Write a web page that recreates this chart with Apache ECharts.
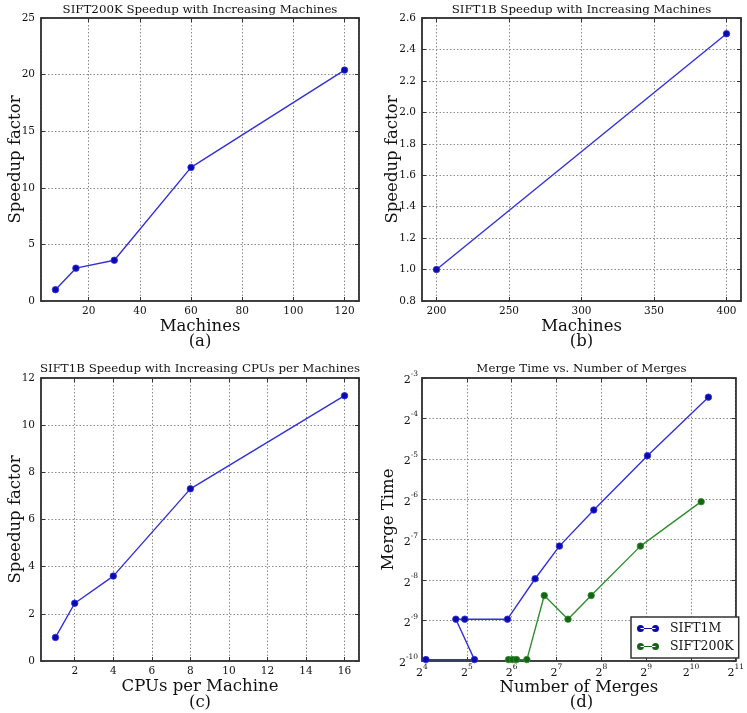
<!DOCTYPE html>
<html><head><meta charset="utf-8">
<script src="https://cdn.jsdelivr.net/npm/echarts@6/dist/echarts.min.js"></script>
<style>html,body{margin:0;padding:0;background:#fff}#c{width:747px;height:713px}</style>
</head><body><div id="c"></div>
<script>
// ---- Data ----
// (a) SIFT200K speedup vs machines
const machinesA = [7, 15, 30, 60, 120];
const speedupA = [1.0, 2.9, 3.6, 11.8, 20.4];
// (b) SIFT1B speedup vs machines
const machinesB = [200, 400];
const speedupB = [1.0, 2.5];
// (c) SIFT1B speedup vs CPUs per machine
const cpusC = [1, 2, 4, 8, 16];
const speedupC = [1.0, 2.45, 3.6, 7.3, 11.25];
// (d) merge time vs number of merges (log2 axes)
const mergesSIFT1M = [17, 36, 27, 31, 60, 92, 134, 228, 523, 1342];
const timeSIFT1M = [0.001, 0.001, 0.002, 0.002, 0.002, 0.004, 0.007, 0.013, 0.033, 0.09];
const mergesSIFT200K = [61, 65, 69, 81, 106, 153, 219, 469, 1200];
const timeSIFT200K = [0.001, 0.001, 0.001, 0.001, 0.003, 0.002, 0.003, 0.007, 0.015];

const titlesTop = ['SIFT200K Speedup with Increasing Machines', 'SIFT1B Speedup with Increasing Machines',
  'SIFT1B Speedup with Increasing CPUs per Machines', 'Merge Time vs. Number of Merges'];
const panelLabels = ['(a)', '(b)', '(c)', '(d)'];
const xNames = ['Machines', 'Machines', 'CPUs per Machine', 'Number of Merges'];
const yNames = ['Speedup factor', 'Speedup factor', 'Speedup factor', 'Merge Time'];

// ---- Style ----
const FONT = 'DejaVu Serif';
const BLUE_LINE = '#3030dc';
const BLUE_MARK = '#0a0ab0';
const GREEN_LINE = '#2f8f2f';
const GREEN_MARK = '#146414';
const grids = [
  {left: 41, top: 18, width: 318, height: 283},
  {left: 422, top: 18, width: 319, height: 283},
  {left: 41, top: 378, width: 318, height: 283},
  {left: 422, top: 378, width: 319, height: 283}
];
const splitLine = {show: true, lineStyle: {color: '#8a8a8a', width: 1, type: [1.5, 2]}};
const tick = {show: true, inside: true, length: 4, lineStyle: {color: '#333', width: 1}};
const axisLine = {show: true, onZero: false, lineStyle: {color: '#333', width: 1.5}};
const labelBase = {fontFamily: FONT, fontSize: 10.5, color: '#111'};
const nameStyle = {fontFamily: FONT, fontSize: 16.5, color: '#111'};

function pow2Label(v) {
  const e = Math.round(Math.log2(v));
  return '{b|2}{s|' + e + '}';
}
const richPow = {
  b: {fontFamily: FONT, fontSize: 11, color: '#111', lineHeight: 16, verticalAlign: 'bottom'},
  s: {fontFamily: FONT, fontSize: 7.5, color: '#111', lineHeight: 9, verticalAlign: 'top'}
};

function xPair(gi, scale, name, nameGap) {
  const main = Object.assign({
    gridIndex: gi, position: 'bottom', axisLine: axisLine, axisTick: tick, splitLine: splitLine,
    name: name, nameLocation: 'middle', nameGap: nameGap, nameMoveOverlap: false, nameTextStyle: nameStyle
  }, scale.common, {axisLabel: Object.assign({margin: 5}, labelBase, scale.label)});
  const mirror = Object.assign({
    gridIndex: gi, position: 'top', axisLine: axisLine, axisTick: tick, splitLine: {show: false},
    axisLabel: {show: false}
  }, scale.common);
  return [main, mirror];
}
function yPair(gi, scale, name, nameGap) {
  const main = Object.assign({
    gridIndex: gi, position: 'left', axisLine: axisLine, axisTick: tick, splitLine: splitLine,
    name: name, nameLocation: 'middle', nameGap: nameGap, nameMoveOverlap: false, nameTextStyle: nameStyle
  }, scale.common, {axisLabel: Object.assign({margin: 6}, labelBase, scale.label)});
  const mirror = Object.assign({
    gridIndex: gi, position: 'right', axisLine: axisLine, axisTick: tick, splitLine: {show: false},
    axisLabel: {show: false}
  }, scale.common);
  return [main, mirror];
}

const xScales = [
  {common: {type: 'value', min: 1.35, max: 125.65, minInterval: 20, maxInterval: 20}, label: {showMinLabel: false, showMaxLabel: false}},
  {common: {type: 'value', min: 190, max: 410, minInterval: 50, maxInterval: 50}, label: {showMinLabel: false, showMaxLabel: false}},
  {common: {type: 'value', min: 0.25, max: 16.75, minInterval: 2, maxInterval: 2}, label: {showMinLabel: false, showMaxLabel: false}},
  {common: {type: 'log', logBase: 2, min: 16, max: 2048}, label: {formatter: pow2Label, rich: richPow, margin: 2}}
];
const yScales = [
  {common: {type: 'value', min: 0, max: 25, interval: 5}, label: {}},
  {common: {type: 'value', min: 0.8, max: 2.6, interval: 0.2}, label: {formatter: v => v.toFixed(1)}},
  {common: {type: 'value', min: 0, max: 12, interval: 2}, label: {}},
  {common: {type: 'log', logBase: 2, min: Math.pow(2, -10), max: Math.pow(2, -3)}, label: {formatter: pow2Label, rich: richPow, margin: 4}}
];
const xGaps = [17, 17, 17, 18];
const yGaps = [17, 21, 17, 25];

let xAxis = [], yAxis = [];
for (let i = 0; i < 4; i++) {
  xAxis = xAxis.concat(xPair(i, xScales[i], xNames[i], xGaps[i]));
  yAxis = yAxis.concat(yPair(i, yScales[i], yNames[i], yGaps[i]));
}

function lineSeries(name, idx, xs, ys, lineColor, markColor) {
  return {
    name: name, type: 'line', xAxisIndex: idx * 2, yAxisIndex: idx * 2,
    data: xs.map((x, i) => [x, ys[i]]),
    symbol: 'circle', symbolSize: 6.5, showSymbol: true, clip: false,
    lineStyle: {color: lineColor, width: 1.4},
    itemStyle: {color: markColor, borderColor: lineColor, borderWidth: 0.8},
    emphasis: {disabled: true}, animation: false
  };
}

const titles = [];
const centers = grids.map(g => g.left + g.width / 2);
const titleTops = [4, 4, 363, 363];
const labelTops = [333, 333, 694, 694];
for (let i = 0; i < 4; i++) {
  titles.push({text: titlesTop[i], left: centers[i], top: titleTops[i], textAlign: 'center', padding: 0,
    textStyle: {fontFamily: FONT, fontSize: 11.8, fontWeight: 'normal', color: '#111'}});
  titles.push({text: panelLabels[i], left: centers[i], top: labelTops[i], textAlign: 'center', padding: 0,
    textStyle: {fontFamily: FONT, fontSize: 16.5, fontWeight: 'normal', color: '#111'}});
}

const legendIcon = 'path://M0,3.5 a3.5,3.5 0 1,0 7,0 a3.5,3.5 0 1,0 -7,0 Z M15,3.5 a3.5,3.5 0 1,0 7,0 a3.5,3.5 0 1,0 -7,0 Z M3.5,2.9 L18.5,2.9 L18.5,4.1 L3.5,4.1 Z';

const option = {
  animation: false,
  backgroundColor: '#fff',
  title: titles,
  grid: grids.map(g => Object.assign({show: true, borderColor: '#333', borderWidth: 1.5, backgroundColor: 'transparent', containLabel: false}, g)),
  xAxis: xAxis,
  yAxis: yAxis,
  legend: {
    show: true, orient: 'vertical', left: 631, top: 617, data: ['SIFT1M', 'SIFT200K'],
    icon: legendIcon, itemWidth: 22, itemHeight: 7, itemGap: 5, padding: [5, 5, 5, 6],
    backgroundColor: '#fff', borderColor: '#333', borderWidth: 1.5, borderRadius: 0,
    itemStyle: {borderWidth: 0},
    textStyle: {fontFamily: FONT, fontSize: 12.5, color: '#111', padding: [0, 0, 0, 6]},
    selectedMode: false
  },
  series: [
    lineSeries('SIFT200K-a', 0, machinesA, speedupA, BLUE_LINE, BLUE_MARK),
    lineSeries('SIFT1B-b', 1, machinesB, speedupB, BLUE_LINE, BLUE_MARK),
    lineSeries('SIFT1B-c', 2, cpusC, speedupC, BLUE_LINE, BLUE_MARK),
    lineSeries('SIFT1M', 3, mergesSIFT1M, timeSIFT1M, BLUE_LINE, BLUE_MARK),
    lineSeries('SIFT200K', 3, mergesSIFT200K, timeSIFT200K, GREEN_LINE, GREEN_MARK)
  ]
};
const chart = echarts.init(document.getElementById('c'), null, {renderer: 'canvas'});
chart.setOption(option);
</script>
</body></html>
